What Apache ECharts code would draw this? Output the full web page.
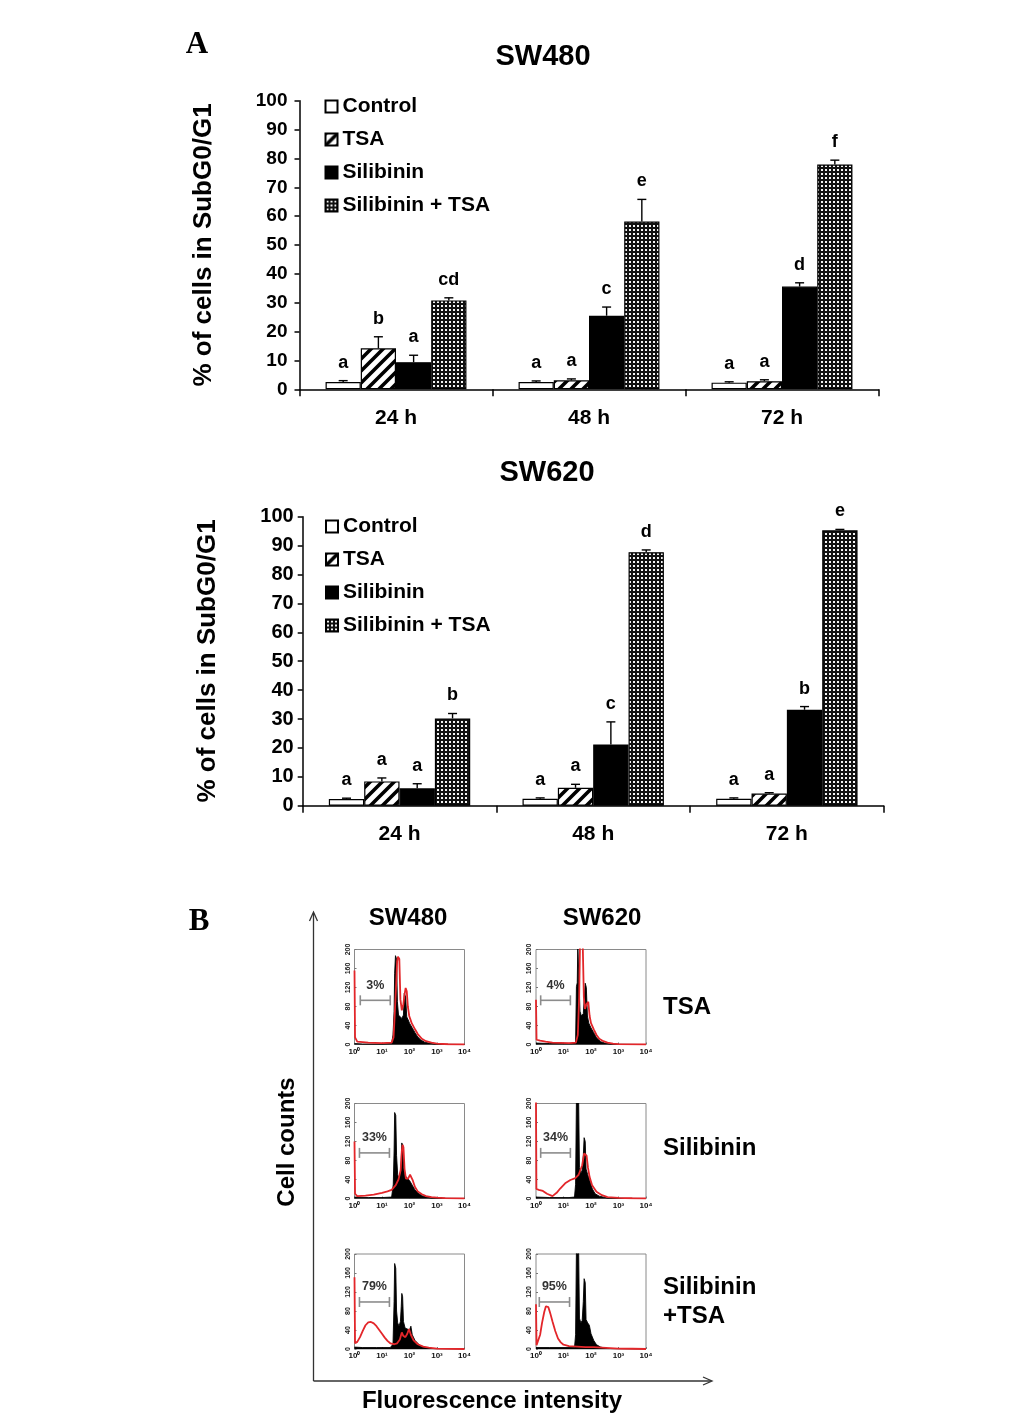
<!DOCTYPE html>
<html>
<head>
<meta charset="utf-8">
<script src="https://cdn.jsdelivr.net/npm/echarts/dist/echarts.min.js"></script>
<style>
html,body{margin:0;padding:0;background:#fff;}
#chart{width:1033px;height:1424px;}
</style>
</head>
<body>
<div id="chart"></div>
<script>
// ---------------- DATA ----------------
const timepoints = ['24 h', '48 h', '72 h'];
const groups = ['Control', 'TSA', 'Silibinin', 'Silibinin + TSA'];

// SW480 (% cells in SubG0/G1): means, upper error, significance letters
const sw480Control = [2.5, 2.5, 2.3];
const sw480ControlErr = [0.5, 0.4, 0.3];
const sw480Tsa = [14.2, 3.1, 2.8];
const sw480TsaErr = [4.0, 0.5, 0.5];
const sw480Sil = [9.4, 25.5, 35.6];
const sw480SilErr = [2.4, 3.0, 1.3];
const sw480SilTsa = [30.8, 58.1, 77.9];
const sw480SilTsaErr = [0.9, 7.7, 1.5];
const sw480Letters = [['a', 'a', 'a'], ['b', 'a', 'a'], ['a', 'c', 'd'], ['cd', 'e', 'f']];

// SW620
const sw620Control = [2.3, 2.4, 2.4];
const sw620ControlErr = [0.3, 0.3, 0.3];
const sw620Tsa = [8.4, 6.2, 4.2];
const sw620TsaErr = [1.2, 1.2, 0.3];
const sw620Sil = [6.0, 21.2, 33.2];
const sw620SilErr = [1.6, 7.8, 1.1];
const sw620SilTsa = [30.2, 87.7, 95.3];
const sw620SilTsaErr = [1.7, 0.8, 0.3];
const sw620Letters = [['a', 'a', 'a'], ['a', 'a', 'a'], ['a', 'c', 'b'], ['b', 'd', 'e']];

// Flow cytometry histograms: [log10 fluorescence, cell count]
const sw480TsaBlack = [[0,2],[0.3,1],[1.0,1],[1.35,2],[1.4,20],[1.44,70],[1.46,150],[1.49,187],[1.53,180],[1.56,90],[1.6,62],[1.66,65],[1.72,55],[1.78,62],[1.81,108],[1.86,100],[1.9,58],[1.95,52],[2.0,45],[2.1,35],[2.2,25],[2.3,16],[2.4,10],[2.55,5],[2.7,3],[2.9,1],[3.2,0.5],[4,0]];
const sw480TsaRed = [[0,156],[0.02,15],[0.1,6],[0.5,4],[1.0,3],[1.35,4],[1.42,15],[1.46,60],[1.51,120],[1.55,175],[1.58,185],[1.63,180],[1.67,95],[1.72,72],[1.77,82],[1.82,105],[1.86,119],[1.9,112],[1.94,80],[1.99,60],[2.08,45],[2.2,32],[2.3,22],[2.45,12],[2.6,7],[2.8,4],[3.0,2],[3.4,0.5],[4,0]];
const sw620TsaBlack = [[0,3],[0.5,2],[1.3,2],[1.44,5],[1.47,122],[1.5,130],[1.52,210],[1.57,210],[1.6,70],[1.65,60],[1.72,65],[1.76,100],[1.79,129],[1.83,120],[1.87,60],[1.92,45],[2.0,35],[2.1,25],[2.2,14],[2.35,6],[2.5,3],[2.7,1],[3,0.5],[4,0]];
const sw620TsaRed = [[0,94],[0.02,10],[0.15,8],[0.35,6],[0.6,4],[1.2,3],[1.45,4],[1.52,20],[1.57,100],[1.6,210],[1.7,210],[1.74,100],[1.78,75],[1.84,85],[1.9,90],[1.95,60],[2.0,45],[2.1,32],[2.2,20],[2.3,12],[2.45,7],[2.6,4],[2.8,2],[3.0,1],[4,0]];
const sw480SilBlack = [[0,3],[0.5,2],[1.0,2],[1.35,3],[1.41,30],[1.44,100],[1.46,181],[1.5,175],[1.53,90],[1.57,50],[1.62,42],[1.67,55],[1.7,80],[1.72,117],[1.76,110],[1.79,65],[1.84,48],[1.9,45],[2.0,38],[2.1,28],[2.2,18],[2.3,12],[2.45,6],[2.6,3],[2.8,1],[3.2,0.5],[4,0]];
const sw480SilRed = [[0,120],[0.02,10],[0.1,5],[0.4,6],[0.7,8],[1.0,12],[1.2,15],[1.35,18],[1.5,28],[1.6,40],[1.68,60],[1.72,100],[1.75,113],[1.78,108],[1.82,62],[1.87,42],[1.95,42],[2.02,50],[2.07,54],[2.12,38],[2.2,24],[2.3,15],[2.45,9],[2.6,5],[2.8,3],[3.0,2],[3.3,1],[4,0]];
const sw620SilBlack = [[0,3],[0.5,2],[1.2,2],[1.4,3],[1.44,30],[1.47,210],[1.55,210],[1.58,65],[1.63,52],[1.68,60],[1.72,90],[1.75,128],[1.79,120],[1.82,62],[1.88,50],[1.95,38],[2.05,20],[2.15,10],[2.3,5],[2.6,1],[3,0.5],[4,0]];
const sw620SilRed = [[0,210],[0.015,20],[0.1,18],[0.25,16],[0.4,10],[0.6,5],[0.75,12],[0.88,21],[1.06,32],[1.25,39],[1.43,43],[1.55,50],[1.68,70],[1.75,95],[1.8,99],[1.84,90],[1.89,65],[1.95,45],[2.04,28],[2.2,14],[2.4,7],[2.6,3],[3.0,1.5],[3.5,0.5],[4,0]];
const sw480ComboBlack = [[0,4],[0.3,3],[0.8,3],[1.3,3],[1.4,10],[1.44,100],[1.46,180],[1.5,170],[1.53,80],[1.57,55],[1.62,48],[1.67,58],[1.7,90],[1.72,117],[1.75,110],[1.78,58],[1.84,44],[1.9,40],[2.0,40],[2.05,48],[2.1,30],[2.2,18],[2.35,9],[2.5,4],[2.8,1],[4,0]];
const sw480ComboRed = [[0,151],[0.02,12],[0.1,15],[0.2,25],[0.3,38],[0.4,50],[0.5,56],[0.6,57],[0.7,54],[0.8,48],[0.9,40],[1.0,32],[1.1,24],[1.2,17],[1.3,12],[1.45,10],[1.55,12],[1.65,20],[1.72,35],[1.77,28],[1.85,25],[1.92,32],[1.98,42],[2.05,30],[2.15,18],[2.3,10],[2.5,5],[2.7,3],[3.0,1],[4,0]];
const sw620ComboBlack = [[0,3],[0.5,3],[1.0,3],[1.4,3],[1.44,30],[1.47,210],[1.55,210],[1.58,65],[1.63,55],[1.68,60],[1.72,100],[1.75,148],[1.79,140],[1.82,62],[1.88,55],[1.94,50],[2.0,32],[2.1,18],[2.2,9],[2.35,4],[2.6,1],[4,0]];
const sw620ComboRed = [[0,94],[0.02,8],[0.08,12],[0.15,30],[0.22,55],[0.3,78],[0.36,90],[0.4,92],[0.45,88],[0.52,75],[0.6,58],[0.7,38],[0.8,22],[0.9,14],[1.0,9],[1.2,6],[1.5,5],[1.8,4],[2.1,4],[2.4,3],[2.7,2],[3.0,1],[3.5,0.5],[4,0]];

// SubG0/G1 gates: [from log10, to log10, count level]
const gateSw480Tsa = [0.21, 1.30, 93];
const gateSw620Tsa = [0.17, 1.25, 93];
const gateSw480Sil = [0.18, 1.27, 96];
const gateSw620Sil = [0.17, 1.25, 96];
const gateSw480Combo = [0.18, 1.27, 99];
const gateSw620Combo = [0.12, 1.22, 99];
const gatePercents = ['3%', '4%', '33%', '34%', '79%', '95%'];

// ---------------- STYLE HELPERS ----------------
const FONT = "'Liberation Sans', Arial, Helvetica, sans-serif";
const SERIF = "'Liberation Serif', 'Times New Roman', serif";

function hatchCanvas() {
  const c = document.createElement('canvas');
  c.width = 12; c.height = 12;
  const g = c.getContext('2d');
  g.fillStyle = '#fff'; g.fillRect(0, 0, 12, 12);
  g.strokeStyle = '#000'; g.lineWidth = 3.6; g.lineCap = 'square';
  g.beginPath();
  g.moveTo(-6, 6); g.lineTo(6, -6);
  g.moveTo(0, 12); g.lineTo(12, 0);
  g.moveTo(6, 18); g.lineTo(18, 6);
  g.stroke();
  return c;
}
function dotCanvas() {
  const c = document.createElement('canvas');
  c.width = 4; c.height = 4;
  const g = c.getContext('2d');
  g.fillStyle = '#111'; g.fillRect(0, 0, 4, 4);
  g.fillStyle = '#f4f4f4'; g.fillRect(1, 1, 2, 2);
  return c;
}
const groupFills = [
  '#ffffff',
  { image: hatchCanvas(), repeat: 'repeat' },
  '#000000',
  { image: dotCanvas(), repeat: 'repeat' }
];

const CAT_GAP = 0.27;

// ---------------- OPTION ----------------
const grids = [];
const xAxes = [];
const yAxes = [];
const series = [];
const legends = [];

const barCharts = [
  { means: [sw480Control, sw480Tsa, sw480Sil, sw480SilTsa], errs: [sw480ControlErr, sw480TsaErr, sw480SilErr, sw480SilTsaErr], letters: sw480Letters,
    grid: { left: 299.5, top: 100.7, width: 579, height: 288.6 }, tickFont: 19, tickMargin: 12, legendPos: { left: 319.5, top: 91 } },
  { means: [sw620Control, sw620Tsa, sw620Sil, sw620SilTsa], errs: [sw620ControlErr, sw620TsaErr, sw620SilErr, sw620SilTsaErr], letters: sw620Letters,
    grid: { left: 302.7, top: 516.7, width: 581, height: 289 }, tickFont: 20, tickMargin: 9, legendPos: { left: 320, top: 511 } }
];

barCharts.forEach((ch, gi) => {
  grids.push(Object.assign({ containLabel: false }, ch.grid));
  xAxes.push({
    gridIndex: gi, type: 'category', data: timepoints,
    axisLine: { lineStyle: { color: '#000', width: 1.5 } },
    axisTick: { show: true, length: 7, lineStyle: { color: '#000', width: 1.5 } },
    axisLabel: { fontSize: 21, fontWeight: 'bold', color: '#000', fontFamily: FONT, margin: 18 },
    splitLine: { show: false }
  });
  yAxes.push({
    gridIndex: gi, type: 'value', min: 0, max: 100, interval: 10,
    axisLine: { show: true, lineStyle: { color: '#000', width: 1.5 } },
    axisTick: { show: true, length: 5, lineStyle: { color: '#000', width: 1.5 } },
    axisLabel: { fontSize: ch.tickFont, fontWeight: 'bold', color: '#000', fontFamily: FONT, margin: ch.tickMargin },
    splitLine: { show: false }
  });
  groups.forEach((name, si) => {
    series.push({
      type: 'bar', name: name, xAxisIndex: gi, yAxisIndex: gi,
      data: ch.means[si],
      barGap: '0%', barCategoryGap: (CAT_GAP * 100) + '%',
      itemStyle: { color: groupFills[si], borderColor: '#000', borderWidth: 1.2 },
      emphasis: { disabled: true }, z: 2
    });
  });
  groups.forEach((name, si) => {
    const lettersArr = ch.letters[si];
    series.push({
      type: 'custom', xAxisIndex: gi, yAxisIndex: gi, z: 5, silent: true,
      data: timepoints.map((t, i) => [i, ch.means[si][i], ch.errs[si][i]]),
      renderItem: function (params, api) {
        const cat = api.value(0), mean = api.value(1), sd = api.value(2);
        const base = api.coord([cat, mean]);
        const top = api.coord([cat, mean + sd]);
        const band = api.size([1, 0])[0];
        const used = band * (1 - CAT_GAP);
        const bw = used / 4;
        const x = base[0] - used / 2 + bw * (si + 0.5);
        const st = { stroke: '#000', lineWidth: 1.4 };
        return {
          type: 'group', children: [
            { type: 'line', shape: { x1: x, y1: base[1], x2: x, y2: top[1] }, style: st },
            { type: 'line', shape: { x1: x - 4.5, y1: top[1], x2: x + 4.5, y2: top[1] }, style: st },
            { type: 'text', x: x, y: top[1] - 9,
              style: { text: lettersArr[params.dataIndex], fill: '#000', font: 'bold 18px ' + FONT, align: 'center', verticalAlign: 'bottom' } }
          ]
        };
      }
    });
  });
  legends.push({
    data: groups, orient: 'vertical', left: ch.legendPos.left, top: ch.legendPos.top,
    icon: 'rect', itemWidth: 12, itemHeight: 12, itemGap: 12, selectedMode: false,
    textStyle: { fontSize: 21, fontWeight: 'bold', color: '#000', fontFamily: FONT, lineHeight: 21 }
  });
});

// Flow histograms
const flowPanels = [
  { black: sw480TsaBlack, red: sw480TsaRed, gate: gateSw480Tsa },
  { black: sw620TsaBlack, red: sw620TsaRed, gate: gateSw620Tsa },
  { black: sw480SilBlack, red: sw480SilRed, gate: gateSw480Sil },
  { black: sw620SilBlack, red: sw620SilRed, gate: gateSw620Sil },
  { black: sw480ComboBlack, red: sw480ComboRed, gate: gateSw480Combo },
  { black: sw620ComboBlack, red: sw620ComboRed, gate: gateSw620Combo }
];
const flowLeft = [354.5, 536];
const flowTop = [949.5, 1103.5, 1254];
const SUP = ['\u2070', '\u00b9', '\u00b2', '\u00b3', '\u2074'];

flowPanels.forEach((p, k) => {
  const gi = grids.length;
  const col = k % 2, row = Math.floor(k / 2);
  grids.push({ left: flowLeft[col], top: flowTop[row], width: 110, height: 95,
    show: true, borderColor: '#8a8a8a', borderWidth: 1, backgroundColor: 'rgba(0,0,0,0)' });
  xAxes.push({
    gridIndex: gi, type: 'value', min: 0, max: 4, interval: 1,
    axisLine: { show: false }, splitLine: { show: false },
    axisTick: { show: true, inside: true, length: 2, lineStyle: { color: '#777' } },
    axisLabel: { fontSize: 8, fontWeight: 'bold', color: '#111', fontFamily: FONT, margin: 3,
      formatter: v => '10' + SUP[v] }
  });
  yAxes.push({
    gridIndex: gi, type: 'value', min: 0, max: 200, interval: 40,
    axisLine: { show: false }, splitLine: { show: false },
    axisTick: { show: true, inside: true, length: 2, lineStyle: { color: '#777' } },
    axisLabel: { fontSize: 7, fontWeight: 'bold', color: '#222', fontFamily: FONT, margin: 3, rotate: 90 }
  });
  series.push({
    type: 'line', xAxisIndex: gi, yAxisIndex: gi, data: p.black, symbol: 'none', silent: true,
    lineStyle: { color: '#000', width: 0.9 }, areaStyle: { color: '#000', opacity: 1 }, z: 2
  });
  series.push({
    type: 'line', xAxisIndex: gi, yAxisIndex: gi, data: p.red, symbol: 'none', silent: true,
    lineStyle: { color: '#e3262a', width: 1.8 }, z: 3
  });
  series.push({
    type: 'custom', xAxisIndex: gi, yAxisIndex: gi, z: 4, silent: true,
    data: [p.gate],
    renderItem: function (params, api) {
      const a = api.coord([api.value(0), api.value(2)]);
      const b = api.coord([api.value(1), api.value(2)]);
      const st = { stroke: '#8c8c8c', lineWidth: 1.6 };
      return {
        type: 'group', children: [
          { type: 'line', shape: { x1: a[0], y1: a[1], x2: b[0], y2: b[1] }, style: st },
          { type: 'line', shape: { x1: a[0], y1: a[1] - 5, x2: a[0], y2: a[1] + 5 }, style: st },
          { type: 'line', shape: { x1: b[0], y1: b[1] - 5, x2: b[0], y2: b[1] + 5 }, style: st },
          { type: 'text', x: (a[0] + b[0]) / 2, y: a[1] - 15,
            style: { text: gatePercents[k], fill: '#333', font: 'bold 12.5px ' + FONT, align: 'center', verticalAlign: 'middle' } }
        ]
      };
    }
  });
});

function txt(x, y, text, font, extra) {
  return Object.assign({ type: 'text', x: x, y: y, silent: true,
    style: { text: text, font: font, fill: '#000', align: 'center', verticalAlign: 'middle' } }, extra || {});
}
const BOLD26 = 'bold 26px ' + FONT;
const BOLD24 = 'bold 24px ' + FONT;
const graphics = [
  txt(197, 45, 'A', 'bold 31px ' + SERIF),
  txt(199, 922, 'B', 'bold 31px ' + SERIF),
  txt(543, 57, 'SW480', 'bold 29px ' + FONT),
  txt(547, 473, 'SW620', 'bold 29px ' + FONT),
  txt(204, 245, '% of cells in SubG0/G1', BOLD26, { rotation: Math.PI / 2 }),
  txt(208, 661, '% of cells in SubG0/G1', BOLD26, { rotation: Math.PI / 2 }),
  txt(408, 918, 'SW480', BOLD24),
  txt(602, 918, 'SW620', BOLD24),
  { type: 'text', x: 663, y: 1007, silent: true, style: { text: 'TSA', font: BOLD24, fill: '#000', align: 'left', verticalAlign: 'middle' } },
  { type: 'text', x: 663, y: 1148, silent: true, style: { text: 'Silibinin', font: BOLD24, fill: '#000', align: 'left', verticalAlign: 'middle' } },
  { type: 'text', x: 663, y: 1287, silent: true, style: { text: 'Silibinin', font: BOLD24, fill: '#000', align: 'left', verticalAlign: 'middle' } },
  { type: 'text', x: 663, y: 1316, silent: true, style: { text: '+TSA', font: BOLD24, fill: '#000', align: 'left', verticalAlign: 'middle' } },
  txt(287, 1142, 'Cell counts', BOLD24, { rotation: Math.PI / 2 }),
  txt(492, 1401, 'Fluorescence intensity', BOLD24),
  { type: 'polyline', silent: true, shape: { points: [[313.5, 1381], [313.5, 913]] }, style: { stroke: '#333', lineWidth: 1.3, fill: null } },
  { type: 'polyline', silent: true, shape: { points: [[309.5, 921], [313.5, 912], [317.5, 921]] }, style: { stroke: '#333', lineWidth: 1.3, fill: null } },
  { type: 'polyline', silent: true, shape: { points: [[313.5, 1381], [711, 1381]] }, style: { stroke: '#333', lineWidth: 1.3, fill: null } },
  { type: 'polyline', silent: true, shape: { points: [[703, 1377], [712, 1381], [703, 1385]] }, style: { stroke: '#333', lineWidth: 1.3, fill: null } }
];

const chart = echarts.init(document.getElementById('chart'), null, { renderer: 'canvas' });
chart.setOption({
  backgroundColor: '#ffffff',
  animation: false,
  textStyle: { fontFamily: FONT },
  grid: grids,
  xAxis: xAxes,
  yAxis: yAxes,
  legend: legends,
  series: series,
  graphic: graphics
});
</script>
</body>
</html>
